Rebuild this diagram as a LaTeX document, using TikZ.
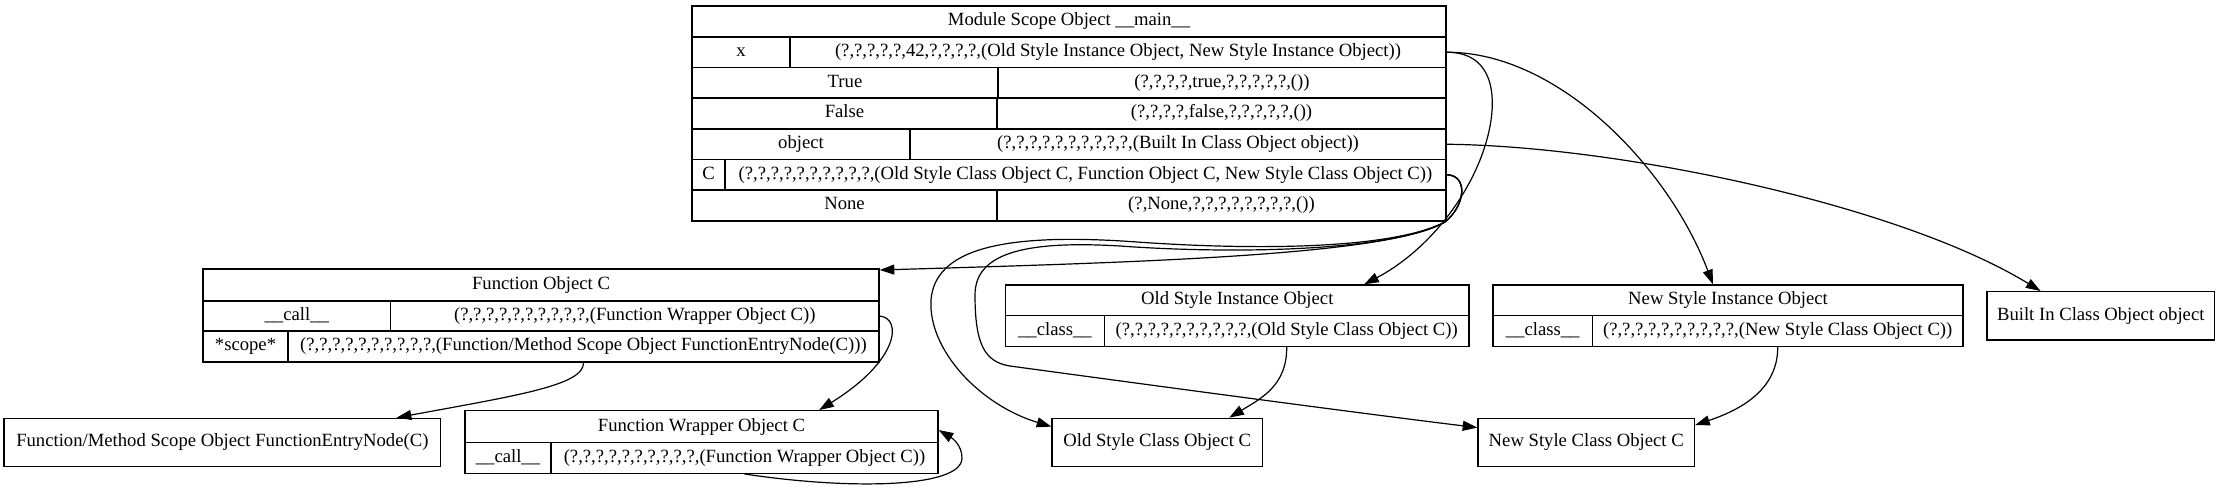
\documentclass[tikz,border=0pt]{standalone}
\usepackage{fontspec}
\setmainfont{Liberation Serif}
\usetikzlibrary{arrows.meta,calc}
\newcommand\mycell[6]{%
  \node[cell, minimum width={0.75pt*(#4-#2)}, minimum height={0.75pt*(#5-#3)}] (#1) at ({(#2+#4)/2},{(#3+#5)/2}) {#6};}
\begin{document}
\begin{tikzpicture}[x=0.75pt,y=-0.75pt,
  cell/.style={draw=black, line width=1pt, inner sep=0pt, text height=9.8pt, text depth=3.2pt, font=\fontsize{14pt}{16pt}\selectfont},
  edge/.style={draw=black, line width=0.9pt, -{Triangle[length=11pt,width=7.5pt]}},
]
\fill[white] (0,0) rectangle (2220,487);
\useasboundingbox (0,0) rectangle (2220,487);

% Module Scope Object
\mycell{ms-h}{692}{6}{1446}{37}{Module Scope Object \_\_main\_\_}
\mycell{msx-k}{692}{37}{790}{67.5}{x}
\mycell{msx-v}{790}{37}{1446}{67.5}{(?,?,?,?,?,42,?,?,?,?,(Old Style Instance Object, New Style Instance Object))}
\mycell{mst-k}{692}{67.5}{998}{98}{True}
\mycell{mst-v}{998}{67.5}{1446}{98}{(?,?,?,?,true,?,?,?,?,?,())}
\mycell{msf-k}{692}{98}{997}{129}{False}
\mycell{msf-v}{997}{98}{1446}{129}{(?,?,?,?,false,?,?,?,?,?,())}
\mycell{msobj-k}{692}{129}{910}{159.5}{object}
\mycell{msobj-v}{910}{129}{1446}{159.5}{(?,?,?,?,?,?,?,?,?,?,(Built In Class Object object))}
\mycell{msC-k}{692}{159.5}{725}{190}{C}
\mycell{msC-v}{725}{159.5}{1446}{190}{(?,?,?,?,?,?,?,?,?,?,(Old Style Class Object C, Function Object C, New Style Class Object C))}
\mycell{msn-k}{692}{190}{997}{221}{None}
\mycell{msn-v}{997}{190}{1446}{221}{(?,None,?,?,?,?,?,?,?,?,())}

% Function Object C
\mycell{fo-h}{203}{269}{879}{301}{Function Object C}
\mycell{focall-k}{203}{301}{390.6}{331}{\_\_call\_\_}
\mycell{focall-v}{390.6}{301}{879}{331}{(?,?,?,?,?,?,?,?,?,?,(Function Wrapper Object C))}
\mycell{foscope-k}{203}{331}{288}{362}{*scope*}
\mycell{foscope-v}{288}{331}{879}{362}{(?,?,?,?,?,?,?,?,?,?,(Function/Method Scope Object FunctionEntryNode(C)))}

% Function Wrapper Object C
\mycell{fw-h}{465}{410.7}{938}{442.7}{Function Wrapper Object C}
\mycell{fwcall-k}{465}{442.7}{551}{473.3}{\_\_call\_\_}
\mycell{fwcall-v}{551}{442.7}{938}{473.3}{(?,?,?,?,?,?,?,?,?,?,(Function Wrapper Object C))}

% Function/Method Scope Object
\mycell{fe}{4}{418.3}{440.7}{466.7}{Function/Method Scope Object FunctionEntryNode(C)}

% Old Style Instance Object
\mycell{osi-h}{1005.5}{285}{1469}{315.7}{Old Style Instance Object}
\mycell{osi-k}{1005.5}{315.7}{1104.4}{346.3}{\_\_class\_\_}
\mycell{osi-v}{1104.4}{315.7}{1469}{346.3}{(?,?,?,?,?,?,?,?,?,?,(Old Style Class Object C))}

% New Style Instance Object
\mycell{nsi-h}{1493}{285}{1963}{315.7}{New Style Instance Object}
\mycell{nsi-k}{1493}{315.7}{1592.4}{346.3}{\_\_class\_\_}
\mycell{nsi-v}{1592.4}{315.7}{1963}{346.3}{(?,?,?,?,?,?,?,?,?,?,(New Style Class Object C))}

% Built In Class Object object
\mycell{bi}{1987}{291.7}{2214.5}{340}{Built In Class Object object}

% Class objects
\mycell{osc}{1052}{418.3}{1262.5}{466.7}{Old Style Class Object C}
\mycell{nsc}{1478}{418.3}{1694.4}{466.7}{New Style Class Object C}

% Edges
\draw[edge] (msx-v.east) .. controls (1560,52) and (1670,170) .. ($(nsi-h.north west)!0.468!(nsi-h.north east)$);
\draw[edge] (msx-v.east) .. controls (1500,52) and (1500,110) .. (1480,160) .. controls (1460,210) and (1420,255) .. ($(osi-h.north west)!0.773!(osi-h.north east)$);
\draw[edge] (msobj-v.east) .. controls (1620,146) and (1900,205) .. ($(bi.north west)!0.237!(bi.north east)$);
\draw[edge] (msC-v.east) .. controls (1468,175) and (1466,205) .. (1445,222) .. controls (1390,255) and (1150,262) .. ($(fo-h.north east)!0.05!(fo-h.south east)$);
\draw[edge] (msC-v.east) .. controls (1468,175) and (1466,205) .. (1445,222) .. controls (1390,250) and (1250,250) .. (1137,242) .. controls (1000,232) and (935,250) .. (931,300) .. controls (928,350) and (980,405) .. ($(osc.north west)!0.18!(osc.south west)$);
\draw[edge] (msC-v.east) .. controls (1468,175) and (1466,205) .. (1445,222) .. controls (1390,252) and (1230,254) .. (1120,246) .. controls (1020,240) and (975,255) .. (975,295) .. controls (975,345) and (985,362) .. (1010,366) .. controls (1150,385) and (1350,412) .. ($(nsc.north west)!0.2!(nsc.south west)$);
\draw[edge] (focall-v.east) .. controls (902,318) and (900,360) .. ($(fw-h.north west)!0.748!(fw-h.north east)$);
\draw[edge] (foscope-v.south) .. controls (584,385) and (520,395) .. ($(fe.north west)!0.898!(fe.north east)$);
\draw[edge] (fwcall-v.south) .. controls (850,490) and (962,488) .. (962,458) .. controls (962,445) and (952,438) .. ($(fw-h.north east)!0.6!(fw-h.south east)$);
\draw[edge] (osi-v.south) .. controls (1287,385) and (1262,398) .. ($(osc.north west)!0.84!(osc.north east)$);
\draw[edge] (nsi-v.south) .. controls (1778,390) and (1740,410) .. ($(nsc.north east)!0.15!(nsc.south east)$);
\end{tikzpicture}
\end{document}
